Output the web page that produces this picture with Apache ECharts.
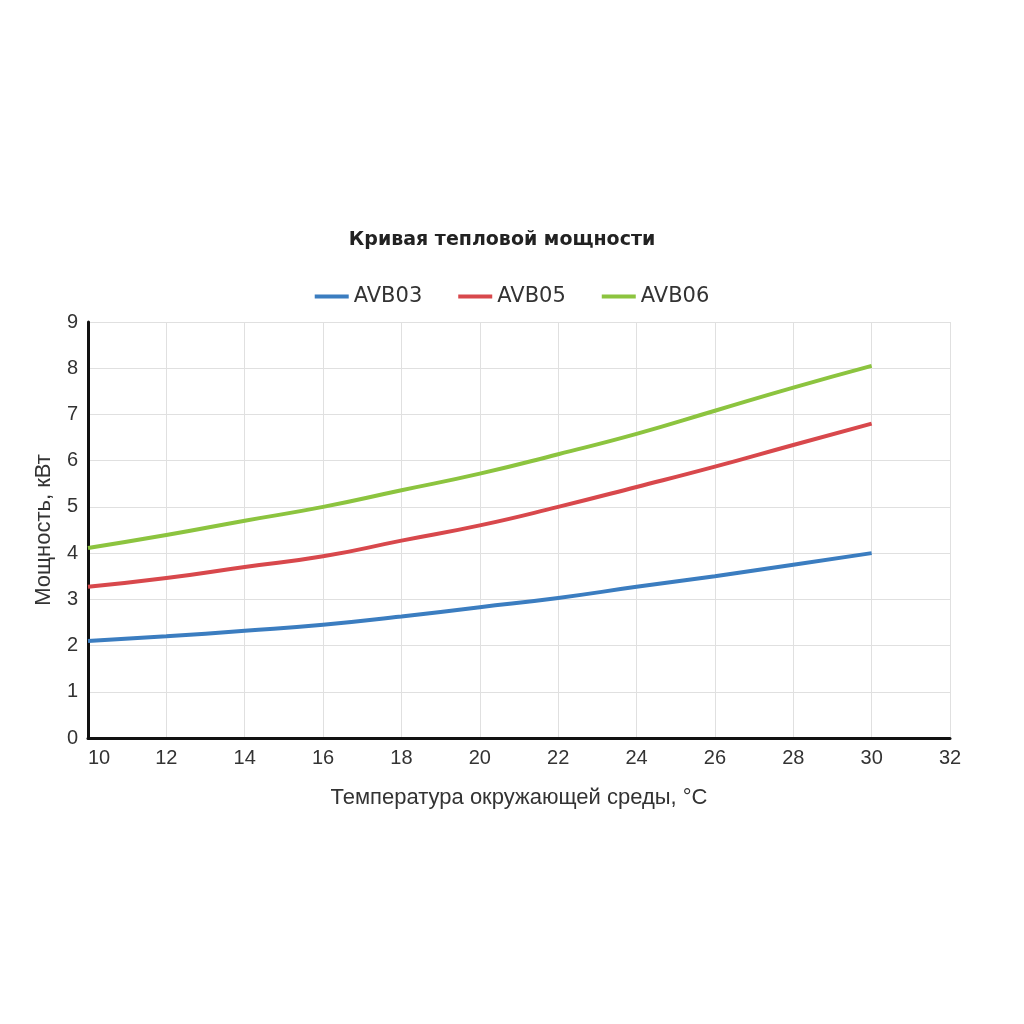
<!DOCTYPE html>
<html>
<head>
<meta charset="utf-8">
<script src="https://cdn.jsdelivr.net/npm/echarts@6/dist/echarts.min.js"></script>
<style>
  html, body { margin: 0; padding: 0; background: #ffffff; }
  #myChart { width: 1024px; height: 1024px; }
</style>
</head>
<body>
<div id="myChart"></div>
<script>
// температура, °C
const temps = [10, 12, 14, 16, 18, 20, 22, 24, 26, 28, 30];
// мощность, кВт
const avb03 = [2.10, 2.20, 2.32, 2.45, 2.63, 2.83, 3.03, 3.27, 3.50, 3.75, 4.00];
const avb05 = [3.27, 3.46, 3.70, 3.93, 4.27, 4.60, 5.00, 5.43, 5.87, 6.34, 6.80];
const avb06 = [4.11, 4.39, 4.70, 5.00, 5.36, 5.72, 6.14, 6.58, 7.08, 7.58, 8.05];
const seriesNames = ['AVB03', 'AVB05', 'AVB06'];

const pairs = vals => temps.map((t, i) => [t, vals[i]]);

let myChart = echarts.init(document.getElementById('myChart'));
let option = {
  color: ['#3b7dc0', '#d8484c', '#8cc43f'],
  animation: false,
  title: {
    text: 'Кривая тепловой мощности',
    left: 497,
    textAlign: 'center',
    top: 226,
    textStyle: {
      fontFamily: 'DejaVu Sans',
      fontWeight: 'bold',
      fontSize: 19,
      color: '#222'
    }
  },
  legend: {
    data: seriesNames,
    top: 281,
    left: 'center',
    icon: 'rect',
    itemWidth: 34,
    itemHeight: 4,
    itemGap: 36,
    textStyle: {
      fontFamily: 'DejaVu Sans',
      fontSize: 21,
      color: '#333'
    }
  },
  grid: {
    left: 88,
    right: 74,
    top: 322,
    bottom: 286
  },
  xAxis: {
    type: 'value',
    min: 10,
    max: 32,
    interval: 2,
    name: 'Температура окружающей среды, °C',
    nameLocation: 'middle',
    nameGap: 49,
    nameTextStyle: { fontFamily: 'Liberation Sans', fontSize: 22, color: '#333' },
    axisLine: { lineStyle: { color: '#111', width: 3 } },
    axisTick: { show: false },
    axisLabel: {
      fontFamily: 'Liberation Sans',
      fontSize: 20,
      color: '#333',
      margin: 10,
      alignMinLabel: 'left'
    },
    splitLine: { show: true, lineStyle: { color: '#e0e0e0', width: 1 } }
  },
  yAxis: {
    type: 'value',
    min: 0,
    max: 9,
    interval: 1,
    name: 'Мощность, кВт',
    nameLocation: 'middle',
    nameGap: 33,
    nameTextStyle: { fontFamily: 'Liberation Sans', fontSize: 22, color: '#333' },
    axisLine: { show: true, lineStyle: { color: '#111', width: 3 } },
    axisTick: { show: false },
    axisLabel: {
      fontFamily: 'Liberation Sans',
      fontSize: 20,
      color: '#333',
      margin: 10
    },
    splitLine: { show: true, lineStyle: { color: '#e0e0e0', width: 1 } }
  },
  series: [
    { name: seriesNames[0], type: 'line', data: pairs(avb03), smooth: true, showSymbol: false, lineStyle: { width: 4 } },
    { name: seriesNames[1], type: 'line', data: pairs(avb05), smooth: true, showSymbol: false, lineStyle: { width: 4 } },
    { name: seriesNames[2], type: 'line', data: pairs(avb06), smooth: true, showSymbol: false, lineStyle: { width: 4 } }
  ]
};
myChart.setOption(option);
</script>
</body>
</html>
